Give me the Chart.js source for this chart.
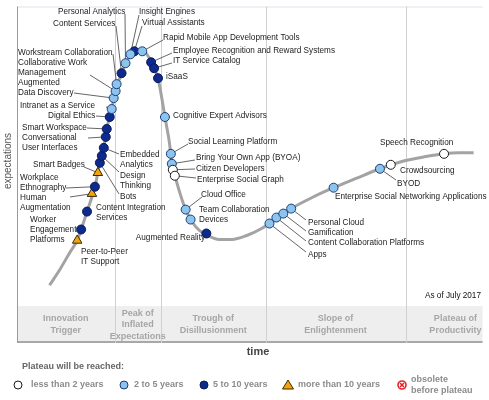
<!DOCTYPE html>
<html>
<head>
<meta charset="utf-8">
<script src="https://cdn.jsdelivr.net/npm/chart.js@4.4.0/dist/chart.umd.min.js"></script>
<style>
html, body { margin: 0; padding: 0; background: #fff; }
#wrap { width: 489px; height: 400px; position: relative; }
</style>
</head>
<body>
<div id="wrap"><canvas id="hype"></canvas></div>
<script>
// hype curve (time, expectations)
const curveTime = [50, 60, 70, 78, 88, 96, 101, 105, 108, 113, 117, 123, 130, 136, 141, 146, 152, 157, 161, 164, 167, 171, 174, 178, 183, 188, 195, 202, 210, 222, 235, 250, 265, 280, 295, 318, 338, 360, 385, 410, 430, 450, 465, 480];
const curveExpect = [58, 73, 90, 103, 132, 157, 181, 196, 215, 235, 253, 271, 286, 293, 295, 293, 285, 275, 261, 245, 227, 205, 183, 165, 148, 134, 121, 113, 108, 104, 104, 108, 115, 125, 135, 147, 156, 165, 175, 183, 187, 190, 191, 191];

// technologies on the curve
const techNames = [
    'Peer-to-Peer\nIT Support', 'Worker\nEngagement\nPlatforms', 'Content Integration\nServices', 'Human\nAugmentation',
    'Workplace\nEthnography', 'Smart Badges', 'Bots', 'Design\nThinking', 'Embedded\nAnalytics',
    'Conversational\nUser Interfaces', 'Smart Workspace', 'Digital Ethics', 'Intranet as a Service',
    'Augmented\nData Discovery', 'Collaborative Work\nManagement', 'Workstream Collaboration', 'Content Services',
    'Personal Analytics', 'Insight Engines', 'Virtual Assistants', 'Rapid Mobile App Development Tools',
    'Employee Recognition and Reward Systems', 'IT Service Catalog', 'iSaaS', 'Cognitive Expert Advisors',
    'Social Learning Platform', 'Bring Your Own App (BYOA)', 'Citizen Developers', 'Enterprise Social Graph',
    'Cloud Office', 'Team Collaboration\nDevices', 'Augmented Reality', 'Apps', 'Content Collaboration Platforms',
    'Gamification', 'Personal Cloud', 'Enterprise Social Networking Applications', 'BYOD', 'Crowdsourcing',
    'Speech Recognition'
];
const techTime = [78, 82, 88, 93, 96, 99, 101, 103, 105, 107, 108, 111, 113, 115, 117, 118, 123, 127, 132, 136, 144, 153, 156, 160, 167, 173, 174, 175, 177, 188, 193, 209, 273, 280, 287, 295, 338, 385, 396, 450];
const techExpect = [103, 114, 132, 150, 157, 171, 181, 188, 196, 207, 215, 227, 235, 246, 253, 260, 271, 281, 290, 293, 293, 282, 276, 266, 227, 190, 180, 174, 168, 134, 124, 110, 120, 126, 130, 135, 156, 175, 179, 190];
const techPlateau = [
    '10+', '5-10', '5-10', '10+', '5-10', '10+', '5-10', '5-10', '5-10', '5-10', '5-10', '5-10', '2-5',
    '2-5', '2-5', '2-5', '5-10', '2-5', '2-5', '5-10', '2-5', '5-10', '5-10', '5-10', '2-5',
    '2-5', '2-5', '<2', '<2', '2-5', '2-5', '5-10', '2-5', '2-5', '2-5', '2-5', '2-5', '2-5', '<2', '<2'
];

const plateauKeys = ['<2', '2-5', '5-10', '10+', 'obsolete'];
const plateauLabels = ['less than 2 years', '2 to 5 years', '5 to 10 years', 'more than 10 years', 'obsolete\nbefore plateau'];

const phaseNames = ['Innovation\nTrigger', 'Peak of\nInflated\nExpectations', 'Trough of\nDisillusionment', 'Slope of\nEnlightenment', 'Plateau of\nProductivity'];
const phaseBounds = [17, 116, 163, 269, 411, 512];
const bandTop = 37; // expectations value where the phase band starts

// label placement: [x, y, align, leaderX, leaderY] in pixels
const labelLayout = [
    [81, 252, 'left', null, null], [30, 220, 'left', null, null], [96, 208, 'left', null, null],
    [20, 198, 'left', 70, 197], [20, 178, 'left', 66, 188], [33, 165, 'left', 84, 167],
    [120, 197, 'left', 119, 194], [120, 176, 'left', 119, 172], [120, 155, 'left', 119, 154],
    [22, 138, 'left', 88, 138], [22, 128, 'left', 87, 128], [48, 116, 'left', 96, 116],
    [20, 106, 'left', 106, 107], [18, 83, 'left', 74, 93], [18, 63, 'left', 90, 75],
    [18, 53, 'left', 113, 54], [53, 24, 'left', 116, 26], [58, 12, 'left', 125, 14],
    [139, 12, 'left', 139, 15], [142, 23, 'left', 142, 26], [163, 38, 'left', 163, 40],
    [173, 51, 'left', 172, 53], [173, 61, 'left', 172, 63], [166, 77, 'left', null, null],
    [173, 116, 'left', null, null], [188, 142, 'left', 188, 144], [196, 158, 'left', 195, 160],
    [196, 169, 'left', 195, 169], [197, 180, 'left', 196, 178], [201, 195, 'left', 202, 197],
    [199, 210, 'left', null, null], [205, 238, 'right', null, null], [308, 255, 'left', 306, 252],
    [308, 243, 'left', 306, 241], [308, 233, 'left', 306, 231], [308, 223, 'left', 306, 220],
    [335, 197, 'left', null, null], [397, 184, 'left', 396, 180], [400, 171, 'left', null, null],
    [380, 143, 'left', null, null]
];

const markerStyle = {
    '<2': { bg: '#ffffff', border: '#1b1b1b', shape: 'circle', r: 4.5 },
    '2-5': { bg: '#8cc4ee', border: '#1d3d78', shape: 'circle', r: 4.5 },
    '5-10': { bg: '#0d2b8f', border: '#0a1a50', shape: 'circle', r: 4.5 },
    '10+': { bg: '#f3a30c', border: '#3a2a00', shape: 'triangle', r: 5.5 }
};

const labelFont = '8.2px "Liberation Sans", Arial, sans-serif';

function buildDatasets() {
    const sets = [{
        label: 'curve',
        data: curveTime.map((t, i) => ({ x: t, y: curveExpect[i] })),
        showLine: true,
        borderColor: '#a3a3a3',
        borderWidth: 3,
        pointRadius: 0,
        cubicInterpolationMode: 'monotone',
        order: 10
    }];
    ['<2', '2-5', '5-10', '10+'].forEach(key => {
        const st = markerStyle[key];
        const pts = [];
        techNames.forEach((n, i) => {
            if (techPlateau[i] === key) pts.push({ x: techTime[i], y: techExpect[i] });
        });
        sets.push({
            label: key,
            data: pts,
            showLine: false,
            pointStyle: st.shape,
            pointRadius: st.r,
            pointBackgroundColor: st.bg,
            pointBorderColor: st.border,
            pointBorderWidth: 1,
            order: 1
        });
    });
    return sets;
}

function drawLines(ctx, text, x, y, lh, align) {
    ctx.textAlign = align;
    text.split('\n').forEach((line, k) => ctx.fillText(line, x, y + k * lh));
}

const hypePlugin = {
    id: 'hype',
    beforeDatasetsDraw(chart) {
        const ctx = chart.ctx;
        const xs = chart.scales.x, ys = chart.scales.y;
        const area = chart.chartArea;
        const band = ys.getPixelForValue(bandTop);
        ctx.save();
        // frame
        ctx.strokeStyle = '#dde3ea';
        ctx.lineWidth = 1;
        ctx.beginPath();
        ctx.moveTo(area.left, area.top + 0.5);
        ctx.lineTo(area.right, area.top + 0.5);
        ctx.stroke();
        // phase band
        ctx.fillStyle = '#eeeeee';
        ctx.fillRect(area.left, band, area.right - area.left, area.bottom - band);
        ctx.strokeStyle = '#a8a8a8';
        ctx.lineWidth = 2;
        ctx.beginPath();
        ctx.moveTo(area.left, area.bottom - 1);
        ctx.lineTo(area.right, area.bottom - 1);
        ctx.stroke();
        // phase dividers
        ctx.strokeStyle = '#d0d0d0';
        ctx.lineWidth = 1;
        phaseBounds.slice(1, -1).forEach(b => {
            const px = Math.round(xs.getPixelForValue(b)) + 0.5;
            ctx.beginPath();
            ctx.moveTo(px, area.top);
            ctx.lineTo(px, area.bottom);
            ctx.stroke();
        });
        // left axis
        ctx.strokeStyle = '#9a9a9a';
        ctx.beginPath();
        ctx.moveTo(area.left + 0.5, area.top);
        ctx.lineTo(area.left + 0.5, area.bottom);
        ctx.stroke();
        // phase names
        ctx.fillStyle = '#a6a6a6';
        ctx.font = 'bold 9px "Liberation Sans", Arial, sans-serif';
        ctx.textBaseline = 'middle';
        phaseNames.forEach((name, i) => {
            const cx = (xs.getPixelForValue(phaseBounds[i]) + xs.getPixelForValue(phaseBounds[i + 1])) / 2;
            const lines = name.split('\n');
            const mid = (band + area.bottom) / 2;
            const y0 = mid - (lines.length - 1) * 11.5 / 2;
            drawLines(ctx, name, cx, y0, 11.5, 'center');
        });
        // leader lines
        ctx.strokeStyle = '#555555';
        ctx.lineWidth = 0.9;
        labelLayout.forEach((lay, i) => {
            if (lay[3] === null) return;
            ctx.beginPath();
            ctx.moveTo(xs.getPixelForValue(techTime[i]), ys.getPixelForValue(techExpect[i]));
            ctx.lineTo(lay[3], lay[4]);
            ctx.stroke();
        });
        ctx.restore();
    },
    afterDatasetsDraw(chart) {
        const ctx = chart.ctx;
        ctx.save();
        ctx.fillStyle = '#222222';
        ctx.font = labelFont;
        ctx.textBaseline = 'middle';
        labelLayout.forEach((lay, i) => {
            drawLines(ctx, techNames[i], lay[0], lay[1], 10, lay[2]);
        });
        ctx.fillStyle = '#111111';
        drawLines(ctx, 'As of July 2017', 425, 296, 10, 'left');

        // axis titles
        ctx.fillStyle = '#444444';
        ctx.font = 'bold 11px "Liberation Sans", Arial, sans-serif';
        drawLines(ctx, 'time', 258, 352, 11, 'center');
        ctx.save();
        ctx.translate(8, 161);
        ctx.rotate(-Math.PI / 2);
        ctx.fillStyle = '#555555';
        ctx.font = '10px "Liberation Sans", Arial, sans-serif';
        drawLines(ctx, 'expectations', 0, 0, 10, 'center');
        ctx.restore();

        // legend
        ctx.fillStyle = '#666666';
        ctx.font = 'bold 9px "Liberation Sans", Arial, sans-serif';
        drawLines(ctx, 'Plateau will be reached:', 22, 367, 10, 'left');
        const legendX = [18, 124, 204, 288, 402];
        const legendTextX = [31, 134, 213, 298, 411];
        const ly = 385;
        plateauKeys.forEach((key, i) => {
            const cx = legendX[i];
            ctx.lineWidth = 1;
            if (key === 'obsolete') {
                ctx.strokeStyle = '#e8202a';
                ctx.lineWidth = 1.6;
                ctx.beginPath();
                ctx.arc(cx, ly, 4, 0, Math.PI * 2);
                ctx.stroke();
                ctx.beginPath();
                ctx.moveTo(cx - 2, ly - 2); ctx.lineTo(cx + 2, ly + 2);
                ctx.moveTo(cx + 2, ly - 2); ctx.lineTo(cx - 2, ly + 2);
                ctx.stroke();
            } else {
                const st = markerStyle[key];
                ctx.fillStyle = st.bg;
                ctx.strokeStyle = st.border;
                ctx.beginPath();
                if (st.shape === 'triangle') {
                    ctx.moveTo(cx, ly - 5);
                    ctx.lineTo(cx + 5.5, ly + 4);
                    ctx.lineTo(cx - 5.5, ly + 4);
                    ctx.closePath();
                } else {
                    ctx.arc(cx, ly, 4, 0, Math.PI * 2);
                }
                ctx.fill();
                ctx.stroke();
            }
            ctx.fillStyle = '#8c8c8c';
            const lines = plateauLabels[i].split('\n');
            const y0 = ly - (lines.length - 1) * 11 / 2;
            drawLines(ctx, plateauLabels[i], legendTextX[i], y0, 11, 'left');
        });
        ctx.restore();
    }
};

new Chart(document.getElementById('hype'), {
    type: 'scatter',
    data: { datasets: buildDatasets() },
    options: {
        responsive: true,
        maintainAspectRatio: false,
        animation: false,
        layout: { padding: { left: 17, top: 5, right: 0, bottom: 57 } },
        scales: {
            x: { type: 'linear', min: 17, max: 489, display: false },
            y: { type: 'linear', min: 0, max: 338, display: false }
        },
        plugins: {
            legend: { display: false },
            tooltip: { enabled: false }
        }
    },
    plugins: [hypePlugin]
});
</script>
</body>
</html>
